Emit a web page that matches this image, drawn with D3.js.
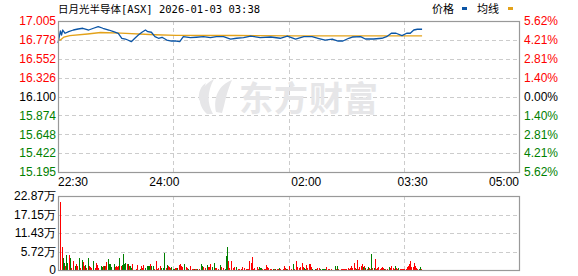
<!DOCTYPE html>
<html>
<head>
<meta charset="utf-8">
<script src="https://cdn.jsdelivr.net/npm/d3@7"></script>
<style>
  body { margin: 0; background: #fff; }
  #chart svg { display: block; }
  text { font-family: "Liberation Sans", Arial, sans-serif; font-size: 12px; }
</style>
</head>
<body>
<div id="chart"><svg></svg></div>
<script>
// minutes after 22:30
var priceMin = [0,2,3,4,6,9,13,17,21,26,30,34,38,43,47,51,54,57,59,62,65,68,71,74,76,79,82,85,88,92,96,100,103,106,112,117,123,129,134,140,146,151,157,163,171,180,188,194,201,208,215,220,226,232,237,241,246,249,256,260,267,274,278,282,286,291,295,298,301,304,308];
var price = [16.741,16.885,16.837,16.897,16.858,16.877,16.897,16.909,16.918,16.897,16.918,16.937,16.918,16.897,16.877,16.858,16.798,16.789,16.777,16.757,16.798,16.837,16.870,16.897,16.877,16.870,16.817,16.798,16.810,16.777,16.765,16.765,16.757,16.817,16.805,16.810,16.817,16.805,16.817,16.817,16.789,16.798,16.805,16.825,16.805,16.813,16.798,16.825,16.789,16.817,16.817,16.798,16.777,16.789,16.765,16.765,16.798,16.813,16.817,16.789,16.789,16.798,16.817,16.858,16.858,16.829,16.858,16.858,16.897,16.906,16.906];

var avgMin = [1,2,5,10,25,36,53,82,100,150,200,308];
var avgPrice = [16.777,16.777,16.813,16.829,16.849,16.867,16.860,16.840,16.833,16.831,16.827,16.826];

// volume per minute, in 万 shares; r = up, g = down
var volWan = [
  0,0,21.0,7.1,3.7,2.2,1.2,4.6,2.2,4.6,
  3.7,0.6,0,2.8,1.2,1.9,1.2,0,3.7,0.6,
  3.1,2.5,1.2,1.5,0.6,3.7,1.2,0.9,0.6,0,
  2.8,0.6,2.2,1.5,0.6,0,1.2,0.9,1.2,1.2,
  1.2,2.5,3.4,1.9,1.9,0.9,0,1.9,0.9,1.2,
  0.9,1.2,3.7,1.2,1.5,4.9,1.9,2.2,1.9,1.9,
  1.2,1.2,0.6,1.9,0,0,0.3,1.5,0,0.3,
  1.2,0.6,1.5,0,0.6,1.2,1.2,1.2,1.9,1.2,
  1.2,0.4,0,2.8,0.4,0.6,1.2,0.6,0,0.6,
  5.3,0.6,1.5,1.2,0.9,0.6,0.9,0.3,0.3,0.6,
  0.6,0.6,1.5,1.9,1.2,0.9,0,1.9,0.9,0.6,
  0.3,0,1.2,0.3,0.3,0.3,0.3,0.3,0.3,0.3,
  0,1.9,1.2,0.9,0.6,0,1.5,0.9,0.9,1.9,
  0.9,0,2.2,0.6,0.6,0.3,0,1.5,0.9,0,
  0.6,0.3,4.3,7.1,2.8,0.6,2.8,0,0.6,0.9,
  0,0.9,0.3,0.3,0,0.3,0.9,0.6,0,0.3,
  0.3,0.3,2.8,2.2,4.0,0.3,0.6,0,0.9,0.3,
  0.9,0.6,0.6,0.3,0.3,0.3,1.5,0.9,0.6,0.3,
  0.3,0,0.3,0.3,0.3,0.3,0.3,0.6,0.3,0,
  0.3,1.2,0.6,0.3,0.3,1.2,0,0.3,0,1.9,
  0.3,2.8,0.9,0,0.6,0.9,2.2,0.9,0.6,0.3,
  1.5,0.6,1.9,1.9,0.9,0.3,0,0.3,0.3,0.6,
  0,0.6,0.3,0.3,0.3,0.3,0.3,0.9,0.3,0.3,
  0,0.3,0,0,1.2,0.3,1.2,0.3,0,0.3,
  0.3,0.3,0.3,0.3,0.3,0.6,0.3,0.6,1.2,0.6,
  2.2,0.6,0.3,3.1,0.3,0.9,1.2,1.9,0.9,1.2,
  0.6,0.3,0.9,0.6,0.3,4.9,0.6,0.6,3.4,0.3,
  0.6,0.9,0.3,0.6,0.9,0.6,0.3,0.3,0.3,0,
  0.9,0.6,1.2,0.6,0.3,1.2,0.6,0.3,0.6,0.3,
  0.3,0.3,0.3,0.3,0.3,0.9,1.2,1.9,2.8,0.9,
  0.9,2.2,1.2,0.6,0.3,0.3,0.9,0.3
];
var volDir = (
  "--rrggrggr" + "gr-rgrr-gr" + "grrgrgrrr-" + "grrrr-ggrg" + "rrgggg-grr" +
  "rrgrggggrg" + "rggr--rr-g" + "rrr-ggggrg" + "gr-rrrrg-g" + "grgrrrgggr" +
  "rgrrrr-grr" + "g-rrrgrrgr" + "-ggrr-grrr" + "g-grrr-gr-" + "rgggrrr-rr" +
  "-grr-rrr-r" + "rrrrrrr-rr" + "gggrrrrrrr" + "r-grgrrgr-" + "rrrgrr-r-g" +
  "rrr-rrrrgg" + "rrrrrg-grr" + "-rgggggrrr" + "-r--grgr-r" + "rrrrrrrrrr" +
  "rrgrrrrrgr" + "grgrrgrgrr" + "rrrrrrgrr-" + "grrrrgrrgr" + "rrrrrrrrrr" +
  "rrrrrggr"
).split("");

var priceTicks = ["17.005","16.778","16.552","16.326","16.100","15.874","15.648","15.422","15.195"];
var pctTicks = ["5.62%","4.21%","2.81%","1.40%","0.00%","1.40%","2.81%","4.21%","5.62%"];
var volTicks = ["22.87万","17.15万","11.43万","5.72万","0"];
var timeMin = [0, 90, 210, 300, 390];
var timeLabels = ["22:30","24:00","02:00","03:30","05:00"];
var prevClose = 16.100;

var W = 578, H = 276;
var left = 58, right = 519;
var mainTop = 21, mainBottom = 172;
var volTop = 196, volBottom = 270;

var RED = "#ff0000", GREEN = "#008000", BORDER = "#999999", GRID = "#cccccc";

var svg = d3.select("#chart svg").
  attr("width", W).
  attr("height", H);

svg.append("rect").attr("width", W).attr("height", H).attr("fill", "#fff");

var x = d3.scaleLinear().domain([0, 390]).range([left, right]);
var y = d3.scaleLinear().domain([15.195, 17.005]).range([mainBottom, mainTop]);
var yv = d3.scaleLinear().domain([0, 22.87]).range([volBottom, volTop]);

// price grid: equal steps between the tick labels
var yGrid = d3.scaleLinear().domain([0, priceTicks.length - 1]).range([mainTop, mainBottom]);
var quarters = d3.range(1, 4).map(function(i) { return 390 * i / 4; });

var grid = svg.append("g").
  attr("stroke", GRID).
  attr("stroke-dasharray", "4,3").
  attr("shape-rendering", "crispEdges");

grid.selectAll(".hp").
  data(d3.range(1, priceTicks.length - 1)).
  enter().append("line").
  attr("x1", left).attr("x2", right).
  attr("y1", function(i) { return Math.round(yGrid(i)) + 0.5; }).
  attr("y2", function(i) { return Math.round(yGrid(i)) + 0.5; });

grid.selectAll(".vp").
  data(quarters).
  enter().append("line").
  attr("x1", function(d) { return Math.round(x(d)) + 0.5; }).
  attr("x2", function(d) { return Math.round(x(d)) + 0.5; }).
  attr("y1", mainTop).attr("y2", mainBottom);

var yvGrid = d3.scaleLinear().domain([0, volTicks.length - 1]).range([volTop, volBottom]);

grid.selectAll(".hv").
  data(d3.range(1, volTicks.length - 1)).
  enter().append("line").
  attr("x1", left).attr("x2", right).
  attr("y1", function(i) { return Math.round(yvGrid(i)) + 0.5; }).
  attr("y2", function(i) { return Math.round(yvGrid(i)) + 0.5; });

grid.selectAll(".vv").
  data(quarters).
  enter().append("line").
  attr("x1", function(d) { return Math.round(x(d)) + 0.5; }).
  attr("x2", function(d) { return Math.round(x(d)) + 0.5; }).
  attr("y1", volTop).attr("y2", volBottom);

// watermark
var wm = svg.append("g").attr("fill", "#e6e6e8");
wm.append("path").
  attr("d", "M207,114 C196,104 197,88 214,79 C207,92 207,103 213,114 Z");
wm.append("path").
  attr("d", "M216,112 C213,97 219,85 232,80 C226,93 225,104 222,113 Z");
wm.append("path").
  attr("d", "M199,100 C198,92 201,86 206,83 C203,90 203,96 205,103 Z");
wm.append("text").
  attr("x", 239).
  attr("y", 111).
  style("font-family", "'Noto Sans CJK SC'").
  style("font-size", "34px").
  style("font-weight", "bold").
  style("letter-spacing", "1px").
  text("东方财富");

// price + average lines
var line = d3.line().
  x(function(d) { return x(d[0]); }).
  y(function(d) { return y(d[1]); });

svg.append("path").
  datum(avgMin.map(function(m, i) { return [m, avgPrice[i]]; })).
  attr("fill", "none").
  attr("stroke", "#e3a21a").
  attr("stroke-width", 1.3).
  attr("d", line);

svg.append("path").
  datum(priceMin.map(function(m, i) { return [m, price[i]]; })).
  attr("fill", "none").
  attr("stroke", "#0b55a6").
  attr("stroke-width", 1.3).
  attr("stroke-linejoin", "round").
  attr("d", line);

// volume bars
var bars = [];
for (var i = 0, n = volWan.length; i < n; i++) {
  if (volWan[i] > 0) bars.push({ m: i, v: volWan[i], up: volDir[i] === "r" });
}

svg.append("g").
  attr("shape-rendering", "crispEdges").
  selectAll("rect").
  data(bars).
  enter().append("rect").
  attr("x", function(d) { return Math.round(x(d.m)); }).
  attr("width", 1).
  attr("y", function(d) { return Math.min(yv(d.v), volBottom - 1); }).
  attr("height", function(d) { return Math.max(volBottom - yv(d.v), 1); }).
  attr("fill", function(d) { return d.up ? RED : GREEN; });

// frames
svg.append("rect").
  attr("x", left + 0.5).attr("y", mainTop + 0.5).
  attr("width", right - left).attr("height", mainBottom - mainTop).
  attr("fill", "none").attr("stroke", BORDER).attr("stroke-width", 1.2);

svg.append("rect").
  attr("x", left + 0.5).attr("y", volTop + 0.5).
  attr("width", right - left).attr("height", volBottom - volTop).
  attr("fill", "none").attr("stroke", BORDER).attr("stroke-width", 1.2);

// axis labels
var tickColor = function(i) {
  var mid = (priceTicks.length - 1) / 2;
  return i < mid ? RED : (i > mid ? GREEN : "#000");
};

svg.append("g").
  selectAll("text").
  data(priceTicks).
  enter().append("text").
  attr("x", 56).
  attr("y", function(d, i) { return yGrid(i); }).
  attr("dy", "0.36em").
  attr("text-anchor", "end").
  attr("fill", function(d, i) { return tickColor(i); }).
  text(function(d) { return d; });

svg.append("g").
  selectAll("text").
  data(pctTicks).
  enter().append("text").
  attr("x", 524).
  attr("y", function(d, i) { return yGrid(i); }).
  attr("dy", "0.36em").
  attr("fill", function(d, i) { return tickColor(i); }).
  text(function(d) { return d; });

svg.append("g").
  selectAll("text").
  data(volTicks).
  enter().append("text").
  attr("x", 56).
  attr("y", function(d, i) { return yvGrid(i); }).
  attr("dy", "0.36em").
  attr("text-anchor", "end").
  attr("fill", "#000").
  text(function(d) { return d; });

svg.append("g").
  selectAll("text").
  data(timeMin).
  enter().append("text").
  attr("x", function(d) { return x(d); }).
  attr("y", 186).
  attr("text-anchor", function(d, i) {
    return i === 0 ? "start" : (i === timeMin.length - 1 ? "end" : "middle");
  }).
  attr("fill", "#000").
  text(function(d, i) { return timeLabels[i]; });

// title + legend
var title = svg.append("text").
  attr("x", 58).
  attr("y", 13).
  attr("fill", "#000").
  style("font-size", "10.5px");
title.append("tspan").style("font-family", "'Noto Sans CJK SC'").text("日月光半导体");
title.append("tspan").style("font-family", "'DejaVu Sans Mono'").text("[ASX] 2026-01-03 03:38");

var legend = [
  { label: "价格", color: "#0b55a6", tx: 432, mx: 462 },
  { label: "均线", color: "#e3a21a", tx: 477, mx: 508 }
];
legend.forEach(function(d) {
  svg.append("text").
    attr("x", d.tx).attr("y", 13).
    style("font-family", "'Noto Sans CJK SC'").
    style("font-size", "11px").
    attr("fill", "#000").
    text(d.label);
  svg.append("rect").
    attr("x", d.mx).attr("y", 7).
    attr("width", 5).attr("height", 3).
    attr("fill", d.color);
});
</script>
</body>
</html>
